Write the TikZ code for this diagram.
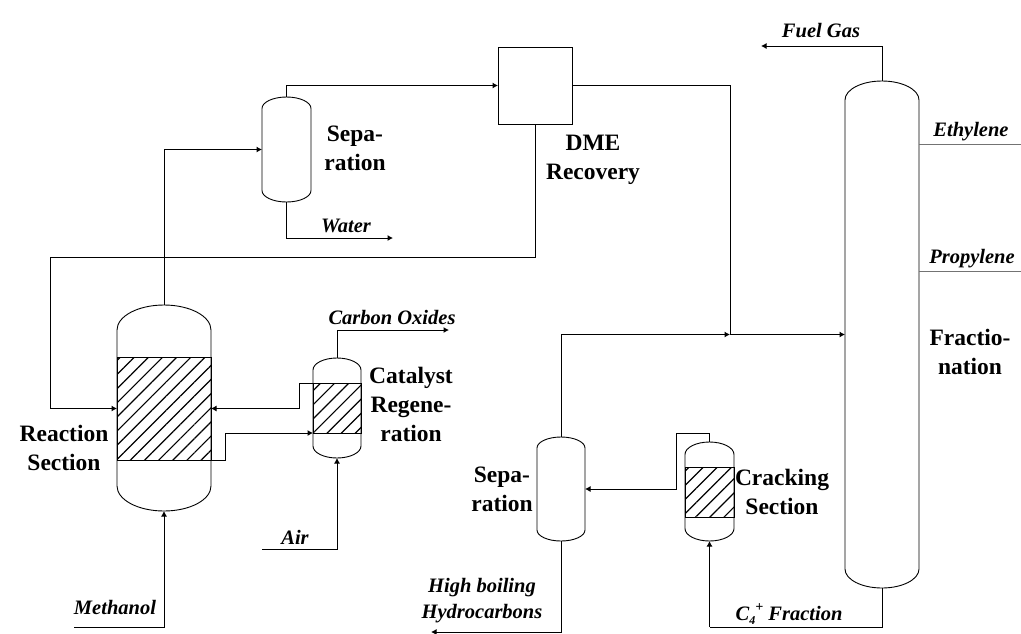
\documentclass[tikz,border=0pt]{standalone}
\usepackage{fontspec}
\setmainfont{Liberation Serif}
\usepackage{tikz}
\usetikzlibrary{arrows.meta, patterns.meta}

\newcommand{\vessel}[6]{
    \node[vesselbody, minimum width=#4pt, minimum height=#5pt] (#1) at (#2,#3) {};
    \draw[line width=0.9pt] ([yshift=-#6pt]#1.north west)
        arc[start angle=180, end angle=0, x radius=#4pt/2, y radius=#6pt]
        -- ([yshift=#6pt]#1.south east)
        arc[start angle=0, end angle=-180, x radius=#4pt/2, y radius=#6pt]
        -- cycle;
}

\begin{document}
\begin{tikzpicture}[
    x=1pt,
    y=-1pt,
    vesselbody/.style={
        rectangle,
        inner sep=0pt,
        outer sep=0pt
    },
    bed/.style={
        draw,
        rectangle,
        inner sep=0pt,
        outer sep=0pt,
        line width=1pt,
        pattern={Lines[angle=45, distance=10pt, line width=1.2pt]}
    },
    unit/.style={
        draw,
        rectangle,
        inner sep=0pt,
        outer sep=0pt,
        line width=1pt
    },
    title/.style={
        font=\fontsize{23.5}{29}\selectfont\bfseries,
        align=center,
        inner sep=0pt
    },
    stream/.style={
        font=\fontsize{20.5}{26}\selectfont\bfseries\itshape,
        align=center,
        inner sep=0pt
    },
    pipe/.style={
        line width=1pt
    },
    arrow/.style={
        -{Latex[length=5.5pt, width=6pt]},
        line width=1pt
    }
]

\useasboundingbox (0,0) rectangle (1021,633);

\vessel{reactor}{164}{408}{94}{206}{25}
\vessel{regen}{337}{408}{48}{100}{12}
\vessel{sepupper}{286.5}{149.5}{49}{105}{11.5}
\vessel{seplower}{561}{489}{48}{104}{11}
\vessel{cracker}{709.5}{491.5}{49}{99}{12.5}
\vessel{frac}{882}{334.5}{74}{507}{19}

\node[bed, minimum width=94pt, minimum height=103pt] (reactbed) at (164,408.5) {};
\node[bed, minimum width=48pt, minimum height=50pt] (regenbed) at (337,408) {};
\node[bed, minimum width=49pt, minimum height=50pt] (crackbed) at (709.5,492) {};
\node[unit, minimum width=74pt, minimum height=77pt] (dme) at (535,85.5) {};

\node[title] (lblreaction) at (64,448) {Reaction\\Section};
\node[title] (lblcatalyst) at (411,404) {Catalyst\\Regene-\\ration};
\node[title] (lblsepupper) at (355,148) {Sepa-\\ration};
\node[title] (lbldme) at (593,160) {DME\\Recovery};
\node[title] (lblseplower) at (502,489) {Sepa-\\ration};
\node[title] (lblcracking) at (782,492) {Cracking\\Section};
\node[title] (lblfrac) at (970,352) {Fractio-\\nation};

\node[stream] (lblwater) at (346,226) {Water};
\node[stream] (lblcarbon) at (392,317) {Carbon Oxides};
\node[stream] (lblmethanol) at (115,607) {Methanol};
\node[stream] (lblair) at (295,537) {Air};
\node[stream] (lblhigh) at (482,601) {High boiling\\Hydrocarbons};
\node[stream, anchor=base] (lblcfour) at (789,620) {C\raisebox{-4pt}{\fontsize{12}{12}\selectfont 4}\raisebox{9pt}{\fontsize{14}{14}\selectfont +}\ Fraction};
\node[stream] (lblfuel) at (821,31) {Fuel Gas};
\node[stream] (lblethylene) at (971,132) {Ethylene};
\node[stream] (lblpropylene) at (972,259) {Propylene};

\coordinate (recycle) at (50,257);
\coordinate (junction) at (730,334.5);
\coordinate (waterend) at (393,238);
\coordinate (methstart) at (74,627);
\coordinate (airstart) at (262,549);
\coordinate (carbonend) at (449,330);
\coordinate (regenout) at (299,383);
\coordinate (crackturn) at (676,433);
\coordinate (crackfoot) at (709.5,627);
\coordinate (highend) at (431,632);
\coordinate (fuelend) at (761,46);
\coordinate (ethstart) at (919,144);
\coordinate (ethend) at (1021,144);
\coordinate (propstart) at (919,271);
\coordinate (propend) at (1021,271);

\draw[arrow] (reactor.north) |- (sepupper.west);
\draw[arrow] (sepupper.north) |- (dme.west);
\draw[arrow] (sepupper.south) |- (waterend);
\draw[pipe] (dme.east) -| (junction);
\draw[pipe] (dme.south) |- (recycle);
\draw[arrow] (recycle) |- (reactbed.west);
\draw[arrow] (seplower.north) |- (junction);
\draw[arrow] (junction) -- (frac.west);
\draw[arrow] (methstart) -| (reactor.south);
\draw[arrow] (airstart) -| (regen.south);
\draw[arrow] (regen.north) |- (carbonend);
\draw[pipe] (regenbed.north west) -- (regenout);
\draw[arrow] (regenout) |- (reactbed.east);
\draw[arrow] (reactbed.south east) -- ++(14,0) |- (regenbed.south west);
\draw[pipe] (cracker.north) |- (crackturn);
\draw[arrow] (crackturn) |- (seplower.east);
\draw[pipe] (frac.south) |- (crackfoot);
\draw[arrow] (crackfoot) -- (cracker.south);
\draw[arrow] (seplower.south) |- (highend);
\draw[arrow] (frac.north) |- (fuelend);
\draw[pipe, black!55] (ethstart) -- (ethend);
\draw[pipe, black!55] (propstart) -- (propend);

\end{tikzpicture}
\end{document}
